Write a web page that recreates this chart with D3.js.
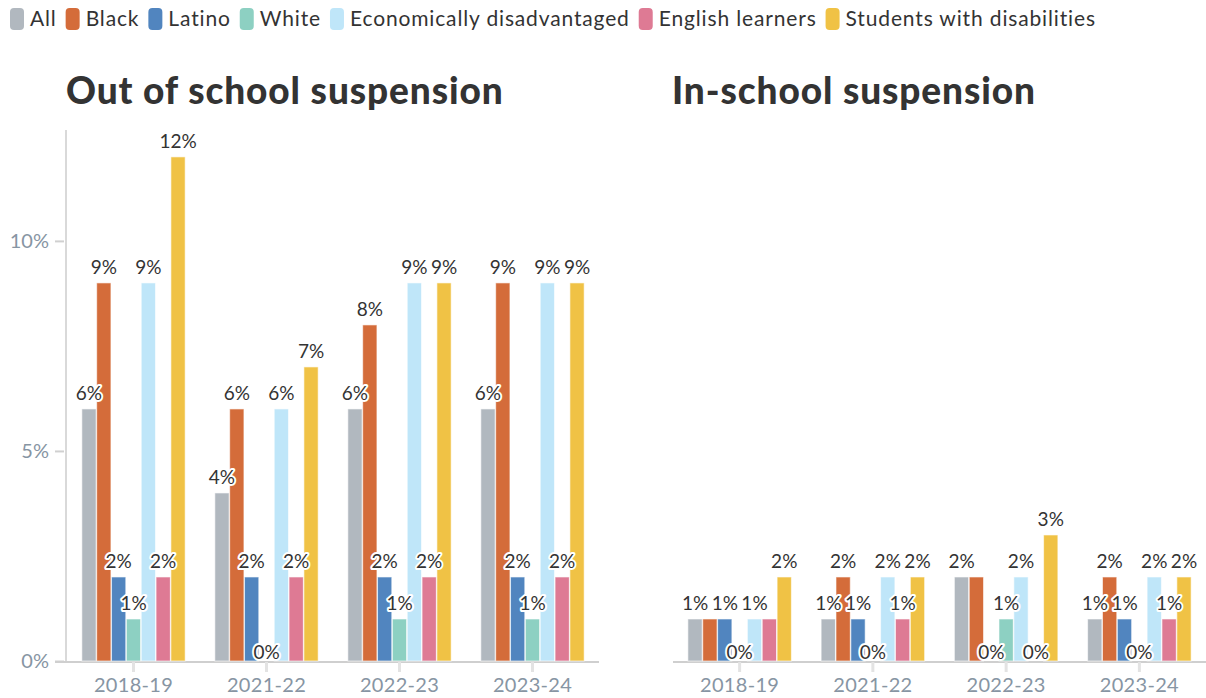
<!DOCTYPE html>
<html>
<head>
<meta charset="utf-8">
<script src="https://cdn.jsdelivr.net/npm/d3@7"></script>
<style>
  html, body { margin: 0; padding: 0; background: #fff; }
  svg { display: block; font-family: Lato, "Open Sans", sans-serif; }
</style>
</head>
<body>
<svg id="chart" width="1206" height="698"></svg>
<script>
// School years shown on the x axis
const years = ["2018-19", "2021-22", "2022-23", "2023-24"];

// Student groups (series) and their colours
const groups = ["All", "Black", "Latino", "White", "Economically disadvantaged", "English learners", "Students with disabilities"];
const groupColors = ["#b1b8bf", "#d46c3a", "#5185bf", "#8dd0c2", "#bfe6f9", "#de7a94", "#f0c245"];

// Out of school suspension rates (%), one array per year in group order
const outOfSchool2018 = [6, 9, 2, 1, 9, 2, 12];
const outOfSchool2021 = [4, 6, 2, 0, 6, 2, 7];
const outOfSchool2022 = [6, 8, 2, 1, 9, 2, 9];
const outOfSchool2023 = [6, 9, 2, 1, 9, 2, 9];

// In-school suspension rates (%)
const inSchool2018 = [1, 1, 1, 0, 1, 1, 2];
const inSchool2021 = [1, 2, 1, 0, 2, 1, 2];
const inSchool2022 = [2, 2, 0, 1, 2, 0, 3];
const inSchool2023 = [1, 2, 1, 0, 2, 1, 2];

// Y axis ticks
const yTicks = [0, 5, 10];
const yMax = 12.64;

const panels = [
  { title: "Out of school suspension", rows: [outOfSchool2018, outOfSchool2021, outOfSchool2022, outOfSchool2023], x0: 67, x1: 599, yAxis: true },
  { title: "In-school suspension", rows: [inSchool2018, inSchool2021, inSchool2022, inSchool2023], x0: 673, x1: 1206, yAxis: false }
];

const svg = d3.select("#chart");
const baseY = 661;
const topY = 130;
const y = d3.scaleLinear().domain([0, yMax]).range([baseY, topY]);

const axisGrey = "#8795a3";
const textDark = "#333333";

// Legend across the top
const legend = svg.append("g").attr("class", "legend");
let lx = 10;
groups.forEach((g, i) => {
  const item = legend.append("g").attr("transform", `translate(${lx},0)`);
  item.append("rect").attr("x", 0).attr("y", 8).attr("width", 14).attr("height", 22).attr("rx", 4)
    .attr("fill", groupColors[i]);
  const t = item.append("text").attr("x", 20).attr("y", 26).attr("font-size", 21)
    .attr("letter-spacing", 0.85).attr("fill", textDark).text(g);
  lx += 20 + t.node().getComputedTextLength() + 9;
});

panels.forEach(p => {
  const g = svg.append("g");

  // Panel title
  g.append("text").attr("x", p.x0 - 1).attr("y", 104).attr("font-size", 37).attr("font-weight", 900)
    .attr("letter-spacing", 0.9).attr("fill", textDark).text(p.title);

  const x = d3.scaleBand().domain(years).range([p.x0, p.x1]).paddingInner(0).paddingOuter(0);
  const xInner = d3.scaleBand().domain(d3.range(groups.length)).range([0, x.bandwidth()])
    .paddingInner(0.04).paddingOuter(1.0);

  // Y axis line, ticks and labels
  if (p.yAxis) {
    g.append("line").attr("x1", p.x0 - 1).attr("x2", p.x0 - 1).attr("y1", topY).attr("y2", baseY)
      .attr("stroke", "#d9d9d9").attr("stroke-width", 2);
    const ya = d3.axisLeft(y).tickValues(yTicks).tickFormat(d => d + "%").tickSize(9).tickPadding(6);
    const yg = g.append("g").attr("transform", `translate(${p.x0 - 3},0)`).call(ya);
    yg.select(".domain").remove();
    yg.selectAll(".tick line").attr("stroke", "#d0d0d0").attr("stroke-width", 2);
    yg.selectAll(".tick text").attr("font-size", 20).attr("fill", axisGrey).attr("font-family", "Lato, sans-serif");
  }

  // Category axis along the baseline
  const xa = d3.axisBottom(x).tickSize(10).tickPadding(6).tickSizeOuter(0);
  const xg = g.append("g").attr("transform", `translate(0,${baseY + 1})`).call(xa);
  xg.select(".domain").attr("stroke", "#cfcfcf").attr("stroke-width", 2)
    .attr("d", `M${p.yAxis ? p.x0 - 12 : p.x0},0H${p.x1}`);
  xg.selectAll(".tick line").attr("stroke", "#e3e3e3").attr("stroke-width", 3);
  xg.selectAll(".tick text").attr("font-size", 20).attr("letter-spacing", 0.3).attr("fill", axisGrey)
    .attr("font-family", "Lato, sans-serif");

  // Bars
  const bars = [];
  p.rows.forEach((row, yi) => {
    row.forEach((v, gi) => {
      bars.push({ year: years[yi], gi, v });
    });
  });

  g.append("g").selectAll("rect").data(bars).join("rect")
    .attr("x", d => x(d.year) + xInner(d.gi))
    .attr("width", xInner.bandwidth())
    .attr("y", d => y(d.v))
    .attr("height", d => baseY - y(d.v))
    .attr("fill", d => groupColors[d.gi])
    .attr("stroke", "#ffffff").attr("stroke-opacity", 0.6).attr("stroke-width", 1);

  // Value labels, hiding any label that would collide with one already placed
  const placed = [];
  const labelLayer = g.append("g");
  bars.forEach(d => {
    const cx = x(d.year) + xInner(d.gi) + xInner.bandwidth() / 2;
    const cy = d.v > 0 ? y(d.v) - 9 : baseY - 2;
    const t = labelLayer.append("text").attr("x", cx).attr("y", cy)
      .attr("text-anchor", "middle").attr("font-size", 19).attr("fill", textDark)
      .attr("stroke", "#ffffff").attr("stroke-width", 4).attr("stroke-linejoin", "round")
      .attr("paint-order", "stroke").text(d.v + "%");
    const w = t.node().getComputedTextLength();
    const box = { x0: cx - w / 2, x1: cx + w / 2, y0: cy - 16, y1: cy + 2 };
    const hit = placed.some(b => box.x0 < b.x1 - 1 && box.x1 > b.x0 + 1 && box.y0 < b.y1 && box.y1 > b.y0);
    if (hit) t.remove(); else placed.push(box);
  });
});
</script>
</body>
</html>
